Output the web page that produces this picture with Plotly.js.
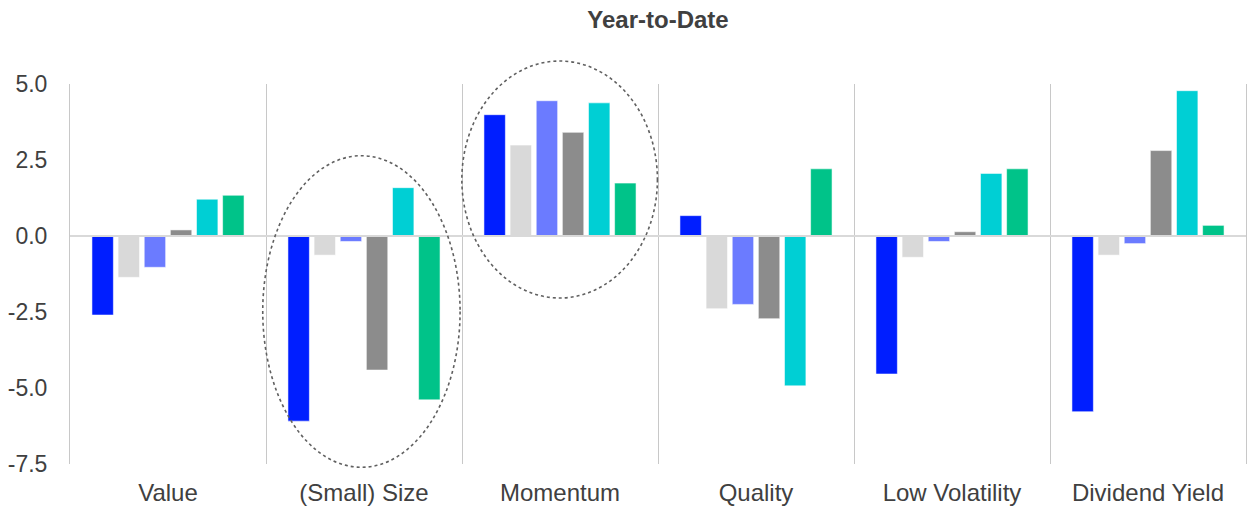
<!DOCTYPE html>
<html>
<head>
<meta charset="utf-8">
<script src="https://cdn.plot.ly/plotly-3.0.1.min.js"></script>
<style>html,body{margin:0;padding:0;background:#fff;}#chart{width:1257px;height:508px;}</style>
</head>
<body>
<div id="chart"></div>
<script>
const categories = ["Value", "(Small) Size", "Momentum", "Quality", "Low Volatility", "Dividend Yield"];
const series1 = [-2.60, -6.09, 3.99, 0.67, -4.54, -5.78];
const series2 = [-1.36, -0.63, 2.99, -2.39, -0.70, -0.63];
const series3 = [-1.03, -0.18, 4.45, -2.25, -0.18, -0.25];
const series4 = [0.20, -4.41, 3.41, -2.72, 0.14, 2.81];
const series5 = [1.21, 1.59, 4.38, -4.93, 2.06, 4.78];
const series6 = [1.34, -5.39, 1.74, 2.21, 2.21, 0.35];
const seriesValues = [series1, series2, series3, series4, series5, series6];
const seriesColors = ["#001EFF", "#D9D9D9", "#6B7BFF", "#8C8C8C", "#00CFD4", "#00C389"];
const yTickVals = [-7.5, -5.0, -2.5, 0.0, 2.5, 5.0];
const yTickText = ["-7.5", "-5.0", "-2.5", "0.0", "2.5", "5.0"];

const FONT = "Liberation Sans, Arial, sans-serif";

const traces = seriesValues.map((vals, i) => ({
  type: "bar",
  x: categories,
  y: vals,
  marker: { color: seriesColors[i], line: { color: "rgba(255,255,255,0.55)", width: 1 } },
  hoverinfo: "y",
  showlegend: false
}));

const layout = {
  width: 1257,
  height: 508,
  paper_bgcolor: "#ffffff",
  plot_bgcolor: "#ffffff",
  margin: { l: 70, r: 11, t: 84, b: 44, pad: 0 },
  barmode: "group",
  bargap: 0.2,
  bargroupgap: 0.18,
  showlegend: false,
  title: {
    text: "<b>Year-to-Date</b>",
    font: { family: FONT, size: 24, color: "#404040" },
    x: 0.5, xref: "paper", xanchor: "center",
    y: 1 - 20 / 508, yref: "container", yanchor: "middle"
  },
  xaxis: {
    type: "category",
    tickson: "boundaries",
    showgrid: true,
    gridcolor: "#C8C8C8",
    gridwidth: 1,
    showline: false,
    zeroline: false,
    ticks: "",
    ticklabelstandoff: 12,
    tickfont: { family: FONT, size: 24, color: "#404040" },
    range: [-0.5, 5.5],
    fixedrange: true
  },
  yaxis: {
    range: [-7.5, 5],
    tickvals: yTickVals,
    ticktext: yTickText,
    showgrid: false,
    showline: true,
    mirror: true,
    linecolor: "#C8C8C8",
    linewidth: 1,
    zeroline: true,
    zerolinecolor: "#D9D9D9",
    zerolinewidth: 2,
    zerolinelayer: "above traces",
    ticks: "",
    ticklabelstandoff: 17,
    tickfont: { family: FONT, size: 23, color: "#404040" },
    fixedrange: true
  },
  shapes: [
    {
      type: "circle", xref: "paper", yref: "paper",
      x0: 0.1639, x1: 0.3317, y0: -0.0087, y1: 0.8113,
      line: { color: "#606060", width: 1.6, dash: "dot" },
      fillcolor: "rgba(0,0,0,0)", layer: "above"
    },
    {
      type: "circle", xref: "paper", yref: "paper",
      x0: 0.3332, x1: 0.4995, y0: 0.4368, y1: 1.0605,
      line: { color: "#606060", width: 1.6, dash: "dot" },
      fillcolor: "rgba(0,0,0,0)", layer: "above"
    }
  ]
};

Plotly.newPlot("chart", traces, layout, { displayModeBar: false, staticPlot: true });
</script>
</body>
</html>
